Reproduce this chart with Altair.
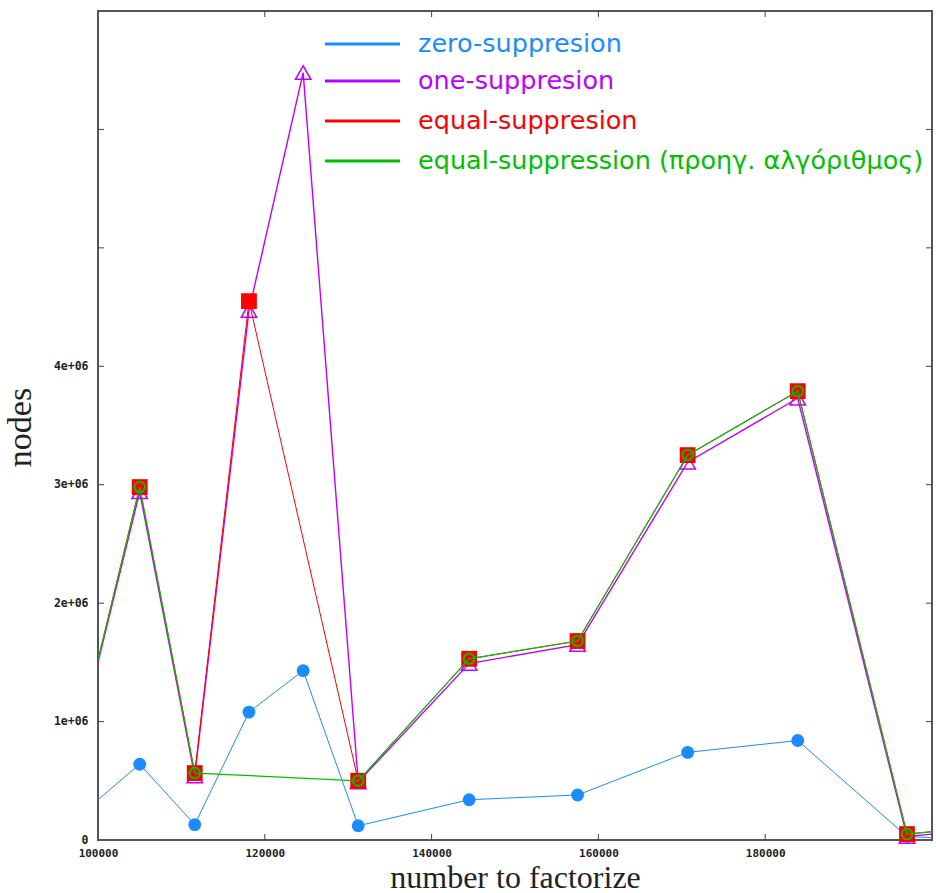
import altair as alt
import pandas as pd

# ---- data ----
x_vals = [100000, 105000, 111600, 118100, 124600, 131200, 144500, 157500, 170700, 183900, 197000, 200000]
zero_supp = [340000, 640000, 130000, 1080000, 1430000, 120000, 340000, 380000, 740000, 840000, 30000, 20000]
one_supp = [1500000, 2940000, 540000, 4470000, 6480000, 490000, 1490000, 1650000, 3190000, 3730000, 30000, 50000]
equal_supp = [1520000, 2980000, 565000, 4550000, None, 500000, 1530000, 1680000, 3250000, 3790000, 50000, 70000]
equal_prev = [1520000, 2980000, 565000, None, None, 500000, 1530000, 1680000, 3250000, 3790000, 50000, 70000]

series_names = ["zero-suppresion", "one-suppresion", "equal-suppresion",
                "equal-suppression (προηγ. αλγόριθμος)"]
series_values = [zero_supp, one_supp, equal_supp, equal_prev]
series_colors = ["#1a8cff", "#c000ff", "#ff0000", "#00c000"]

x_ticks = [100000, 120000, 140000, 160000, 180000]
y_ticks = [0, 1000000, 2000000, 3000000, 4000000, 5000000, 6000000]
x_inner_ticks = [120000, 140000, 160000, 180000]
y_inner_ticks = [1000000, 2000000, 3000000, 4000000, 5000000, 6000000]

W, H = 834, 829
X_MIN, X_MAX = 100000, 200000
Y_MAX = 7000000

xscale = alt.Scale(domain=[X_MIN, X_MAX], nice=False, zero=False)
yscale = alt.Scale(domain=[0, Y_MAX], nice=False)

label_font = "DejaVu Sans Mono"

x_axis = alt.Axis(
    values=x_ticks, format="d", ticks=False, domain=False, grid=False,
    labelFont=label_font, labelFontWeight="bold", labelFontSize=11, labelColor="#222",
    labelPadding=7, labelBaseline="top", labelFlush=False,
    title="number to factorize", titleFont="Liberation Serif", titleFontSize=32,
    titleFontWeight="normal", titleColor="#222", titleX=W / 2, titleY=47,
    titleBaseline="alphabetic", titleAlign="center",
)
y_axis = alt.Axis(
    values=y_ticks, ticks=False, domain=False, grid=False,
    labelExpr="datum.value == 0 ? '0' : (datum.value <= 4000000 ? (datum.value / 1000000) + 'e+06' : '')",
    labelFont=label_font, labelFontWeight="bold", labelFontSize=11.5, labelColor="#222",
    labelPadding=10, labelFlush=False,
    title="nodes", titleFont="Liberation Serif", titleFontSize=34,
    titleFontWeight="normal", titleColor="#222", titleAngle=270,
    titleX=-78, titleY=416, titleAlign="center", titleBaseline="middle",
)

layers = []

# axis skeleton (labels + titles)
base_df = pd.DataFrame({"x": [X_MIN], "y": [0]})
layers.append(
    alt.Chart(base_df).mark_point(opacity=0).encode(
        x=alt.X("x:Q", scale=xscale, axis=x_axis),
        y=alt.Y("y:Q", scale=yscale, axis=y_axis),
    )
)

# inward ticks
ydf = pd.DataFrame({"v": y_inner_ticks})
xdf = pd.DataFrame({"v": x_inner_ticks})
tick_col = "#444"
layers.append(alt.Chart(ydf).mark_rule(color=tick_col, strokeWidth=1).encode(
    y=alt.Y("v:Q", scale=yscale), x=alt.value(0), x2=alt.value(6)))
layers.append(alt.Chart(ydf).mark_rule(color=tick_col, strokeWidth=1).encode(
    y=alt.Y("v:Q", scale=yscale), x=alt.value(W - 6), x2=alt.value(W)))
layers.append(alt.Chart(xdf).mark_rule(color=tick_col, strokeWidth=1).encode(
    x=alt.X("v:Q", scale=xscale), y=alt.value(H - 6), y2=alt.value(H)))
layers.append(alt.Chart(xdf).mark_rule(color=tick_col, strokeWidth=1).encode(
    x=alt.X("v:Q", scale=xscale), y=alt.value(0), y2=alt.value(6)))

line_widths = [1, 1.4, 1, 1.2]
markers = [
    dict(shape="circle", filled=True, size=165, strokeWidth=0),
    dict(shape="triangle-up", filled=False, size=240, strokeWidth=1.5),
    dict(shape="square", filled=True, size=250, strokeWidth=0),
    dict(shape="circle", filled=False, size=110, strokeWidth=2),
]

for name, vals, col, lw, mk in zip(series_names, series_values, series_colors, line_widths, markers):
    rows = [(x, v) for x, v in zip(x_vals, vals) if v is not None]
    df = pd.DataFrame(rows, columns=["x", "y"])
    layers.append(
        alt.Chart(df).mark_line(color=col, strokeWidth=lw, clip=True).encode(
            x=alt.X("x:Q", scale=xscale), y=alt.Y("y:Q", scale=yscale))
    )
    pdf = df[(df["x"] > X_MIN) & (df["x"] < X_MAX)]
    if mk["filled"]:
        pm = alt.Chart(pdf).mark_point(shape=mk["shape"], filled=True, color=col,
                                       size=mk["size"], opacity=1)
    else:
        pm = alt.Chart(pdf).mark_point(shape=mk["shape"], filled=False, color=col,
                                       size=mk["size"], strokeWidth=mk["strokeWidth"], opacity=1)
    layers.append(pm.encode(x=alt.X("x:Q", scale=xscale), y=alt.Y("y:Q", scale=yscale)))

# legend (inside plot, top)
leg_y = [33, 70, 110, 150]
for name, col, ly in zip(series_names, series_colors, leg_y):
    one = pd.DataFrame({"label": [name]})
    layers.append(alt.Chart(one).mark_rule(color=col, strokeWidth=3).encode(
        x=alt.value(227), x2=alt.value(302), y=alt.value(ly)))
    layers.append(alt.Chart(one).mark_text(
        color=col, font="DejaVu Sans", fontSize=25.5, align="left", baseline="middle").encode(
        x=alt.value(320), y=alt.value(ly), text="label:N"))

chart = alt.layer(*layers).properties(
    width=W, height=H,
    autosize=alt.AutoSizeParams(type="none"),
    padding={"left": 98, "top": 11, "right": 4, "bottom": 53},
).configure(
    background="white",
    view=alt.ViewConfig(stroke="#555555", strokeWidth=2),
)

chart.save("out.html", embed_options={"renderer": "svg", "actions": False})
